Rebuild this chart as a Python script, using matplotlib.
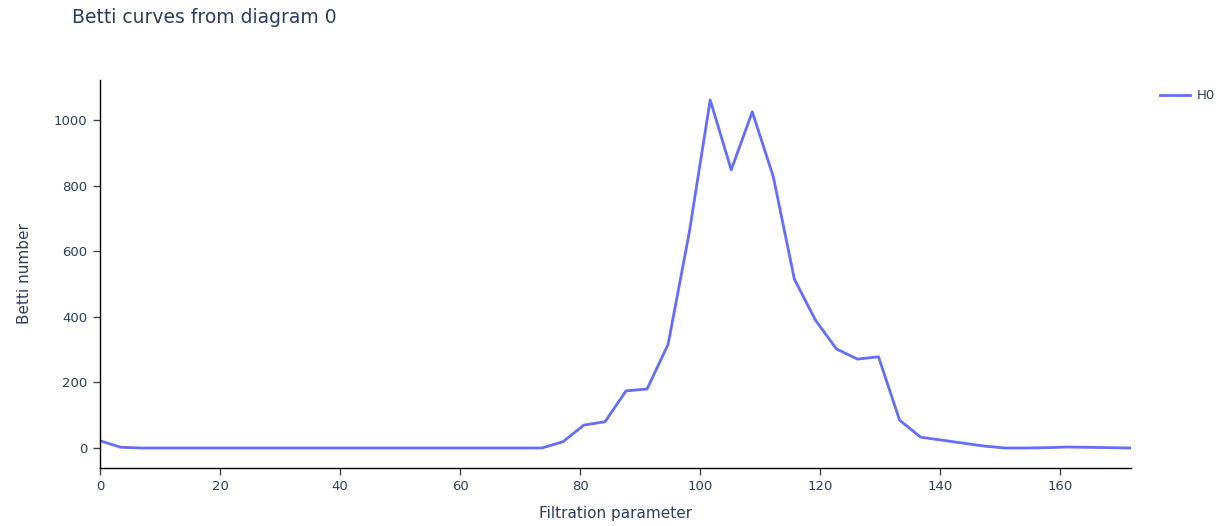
import matplotlib
matplotlib.use("Agg")
import matplotlib.pyplot as plt
import numpy as np

plt.rcParams['font.family'] = ['DejaVu Sans']

# filtration values (50 samples) and Betti numbers for H0
x_max = 171.8
filtration = np.linspace(0, x_max, 50)
betti_h0 = [22, 2, 0, 0, 0, 0, 0, 0, 0, 0,
            0, 0, 0, 0, 0, 0, 0, 0, 0, 0,
            0, 0, 19, 70, 80, 174, 180, 316, 655, 1061,
            848, 1025, 827, 515, 390, 302, 271, 278, 85, 33,
            24, 15, 6, 0, 0, 1, 3, 2, 1, 0]

title = "Betti curves from diagram 0"
xlabel = "Filtration parameter"
ylabel = "Betti number"
series_name = "H0"

text_color = "#2a3f5f"
line_color = "#636efa"

fig = plt.figure(figsize=(12.28, 5.26), dpi=100)
ax = fig.add_axes([100 / 1228, 58 / 526, 1031 / 1228, 388 / 526])

ax.plot(filtration, betti_h0, color=line_color, linewidth=2, label=series_name)

ax.set_xlim(0, x_max)
ax.set_ylim(-61, 1122)
ax.set_xticks(np.arange(0, 161, 20))
ax.set_yticks(np.arange(0, 1001, 200))

for s in ["top", "right"]:
    ax.spines[s].set_visible(False)
for s in ["left", "bottom"]:
    ax.spines[s].set_color("#000000")
    ax.spines[s].set_linewidth(1)

ax.tick_params(axis="both", direction="out", length=5, width=1, color="#444444",
               labelcolor=text_color, labelsize=9.5, pad=4)

ax.set_xlabel(xlabel, color=text_color, fontsize=11, labelpad=9)
ax.set_ylabel(ylabel, color=text_color, fontsize=11, labelpad=16)

fig.text(72 / 1228, 1 - 17.5 / 526, title, color=text_color, fontsize=13.5,
         ha="left", va="center")

leg = ax.legend(loc="upper left", bbox_to_anchor=(1.023, 0.99), frameon=False,
                fontsize=9.5, handlelength=2.3, handletextpad=0.5, borderaxespad=0)
for t in leg.get_texts():
    t.set_color(text_color)

fig.savefig("out.png", dpi=100)
